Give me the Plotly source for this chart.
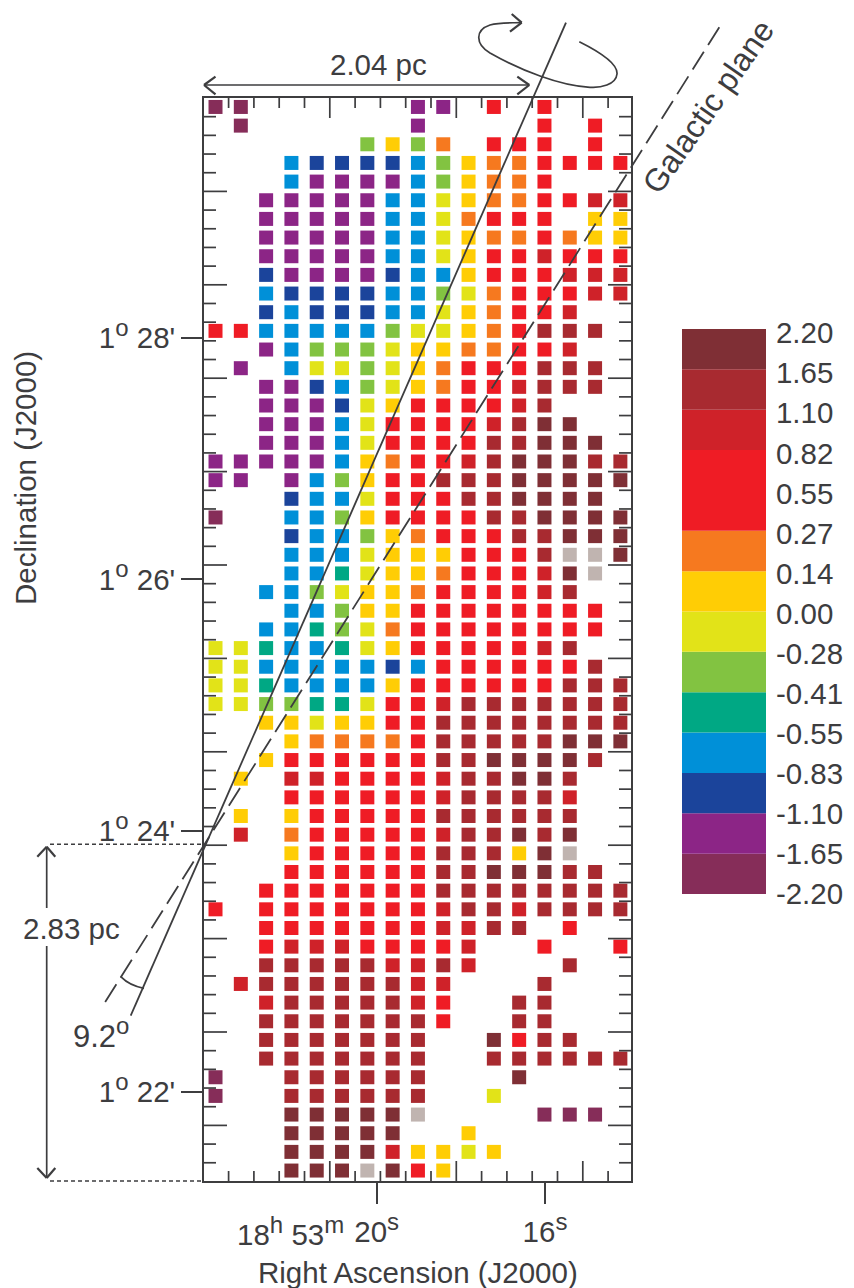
import plotly.graph_objects as go

W, H = 854, 1288
INK = "#3d3d3f"
FONT = "Liberation Sans"
FS = 29.5


def sup(t, size=24):
    return f'<sup><span style="font-size:{size}px">{t}</span></sup>'


# One string per declination row (top to bottom), one letter per right-ascension column.
rows = [
    "aa......bb.j.j...", ".a......b....j.j.", "......fhfi.jjj.j.", "...dccccdfhiijjjj",
    "...dbbbbdfhiij...", "..bbbbbddghiijjkk", "..bbbbbddgijjj.hh", "..bbbbbddghiijihh",
    "..bbbbbddghjjkjjj", "..cbbbbcddhjjjkkk", "..dccccddfgijjjkk", "..cdcccddghijjk..",
    "jjdddddfgghijlll.", "..bdfffghhiijjk..", ".b.dggfghijjjlll.", "..bbcdfghijjklll.",
    "..bbbcghjjjjkl...", "..bbbdgjjjjklmm..", "..bbbdgjjjjllmmm.", "bbbbbdhijjklmmmll",
    "bb.bdfhjjlllmmmmm", "...cddgjjjllmmmm.", "a..ddfhjjjjllmmmm", "...cddfhijjjllmmm",
    "...dddghhhjjjlnnm", "...ddeghhijjjkmn.", "..ddfghhijjjjkl..", "...ddfhhjjjjjjjj.",
    "..ddefgijjjjjjjj.", "ggeddeghjjjjjkl..", "ggdddddcdjjjjjjl.", "ggeddddhjjjjjjlll",
    "ggffeegjjklllllll", "..hhghhjjllllllll", "...hiiiijlllllmmm", "..hjjjjjjllmmmml.",
    ".h.kkjjjjkllmml..", "...jjjjjjkllllk..", ".h.hjjjjjllllll..", ".k.ijjjjjkllmlm..",
    "...hjjjjjlllhmn..", "...jjjjjjllmmmll.", "..jjjjjjjllllllll", "j.jjjjjjjkllkllll",
    "..jjjjjjjkkll.j..", "..jkkkjjjjk..j..j", "..lllllkklk...l..", ".kllllllkk...l...",
    "..klllllkj..ll...", "..lllllllj..ll...", "..lllllll..mjll..", "..lllllll..llllll",
    "a..llllll...m....", "a..llllll..g.....", "...mmmmmn....aaa.", "...mmmmm..h......",
    "...mmmmkhhgh.....", "...mmmnmjh.......",
]

level_keys = list("abcdefghijklmn")
level_colors = ["#862d59", "#8c2586", "#1b449b", "#0090d8", "#00a884", "#82c341", "#e2e318",
                "#ffcd05", "#f6791f", "#ef1c25", "#cf2229", "#a82a30", "#7f2f35", "#c0b4b0"]
scale_labels = ["-2.20", "-1.65", "-1.10", "-0.83", "-0.55", "-0.41", "-0.28", "0.00",
                "0.14", "0.27", "0.55", "0.82", "1.10", "1.65", "2.20"]
scale_spans = [1, 1, 1, 1, 1, 1, 1, 1, 1, 2, 1, 1, 1]   # label intervals covered by levels a..m

dec_tick_rows = [12.39, 25.31, 38.78, 52.77]
dec_tick_labels = [f"1{sup('o')} 28'", f"1{sup('o')} 26'", f"1{sup('o')} 24'", f"1{sup('o')} 22'"]
ra_tick_cols = [6.37, 13.02]
ra_tick_labels = [f"20{sup('s')}", f"16{sup('s')}"]


def fx(x):
    return x / W


def fy(y):
    return 1 - y / H


fig = go.Figure()

for key, colour in zip(level_keys, level_colors):
    xs, ys = [], []
    for r, row in enumerate(rows):
        for c, ch in enumerate(row):
            if ch == key:
                xs.append(c)
                ys.append(r)
    fig.add_trace(go.Scatter(x=xs, y=ys, mode="markers", showlegend=False, hoverinfo="skip",
                             marker=dict(symbol="square", size=14, color=colour, line=dict(width=0))))

base = 0
for span, colour in zip(scale_spans, level_colors):
    fig.add_trace(go.Bar(x=[0], y=[span], base=[base], width=[1], marker=dict(color=colour, line=dict(width=0)),
                         xaxis="x2", yaxis="y2", showlegend=False, hoverinfo="skip"))
    base += span

shapes = []


def seg(x0, y0, x1, y1, width=1.7, dash=None):
    shapes.append(dict(type="line", xref="paper", yref="paper", x0=fx(x0), y0=fy(y0), x1=fx(x1), y1=fy(y1),
                       line=dict(color=INK, width=width, dash=dash)))


def curve(cmds, width=1.7):
    parts = []
    for cmd, pts in cmds:
        parts.append(cmd + " " + " ".join(f"{fx(x):.5f},{fy(y):.5f}" for x, y in pts))
    shapes.append(dict(type="path", xref="paper", yref="paper", path=" ".join(parts),
                       line=dict(color=INK, width=width)))


# inner frame ticks
for k in range(1, 17):
    x = 203.3 + 25.3 * k
    L = 20 if k % 5 == 0 else 10
    seg(x, 98, x, 98 + L)
    seg(x, 1181, x, 1181 - L)
for k in range(1, 58):
    y = 98 + 18.68 * k
    L = 23 if k % 5 == 0 else 12
    seg(204, y, 204 + L, y)
    seg(631, y, 631 - L, y)

# rotation axis and Galactic plane
seg(566, 22.7, 130.7, 1015.7, width=1.8)
seg(719.3, 27.3, 103.7, 1004.3, width=1.8, dash="21px,8px")
curve([("M", [(120.7, 976.7)]), ("Q", [(130, 986), (144, 988.3)])])

# rotation sense
curve([("M", [(579.3, 41.7)]),
       ("C", [(600, 52), (618, 64), (617, 74)]),
       ("C", [(616, 85), (600, 88), (590, 87.3)]),
       ("C", [(560, 86), (520, 70), (490, 53)]),
       ("C", [(475, 44), (475, 30), (490, 25)]),
       ("C", [(500, 22), (510, 23), (521.7, 22.7)])])
seg(511.7, 14, 521.7, 22.7, width=2.2)
seg(521.7, 22.7, 510, 31.7, width=2.2)

# 2.04 pc arrow
seg(204, 85, 529.3, 85)
seg(517.3, 76.7, 529.3, 85, width=2.2)
seg(529.3, 85, 517.3, 94.3, width=2.2)
seg(215.5, 76.7, 204, 85, width=2.2)
seg(204, 85, 215.5, 94.3, width=2.2)

# 2.83 pc arrow
seg(46.7, 846.7, 46.7, 908)
seg(46.7, 946, 46.7, 1178)
seg(37.3, 856.7, 46.7, 846.7, width=2.2)
seg(46.7, 846.7, 55.3, 856.7, width=2.2)
seg(37.3, 1168, 46.7, 1178, width=2.2)
seg(46.7, 1178, 55.3, 1168, width=2.2)
seg(50, 844.3, 204, 844.3, width=1.4, dash="4px,3px")
seg(50, 1181, 204, 1181, width=1.4, dash="4px,3px")


def note(x, y, text, anchor="center", angle=0, size=FS):
    return dict(x=fx(x), y=fy(y), xref="paper", yref="paper", text=text, showarrow=False,
                xanchor=anchor, yanchor="middle", textangle=angle,
                font=dict(family=FONT, size=size, color=INK))


annotations = [
    note(378, 65, "2.04 pc"),
    note(71.7, 928, "2.83 pc"),
    note(71, 1033, f"9.2{sup('o')}", anchor="left", size=31),
    note(346, 1231, f"18{sup('h')} 53{sup('m')}", anchor="right"),
    note(418, 1272, "Right Ascension (J2000)"),
    note(25, 478, "Declination (J2000)", angle=-90),
    note(708, 107, "Galactic plane", angle=-55, size=32),
]

fig.update_layout(
    width=W, height=H, margin=dict(l=0, r=0, t=0, b=0, pad=0, autoexpand=False),
    paper_bgcolor="white", plot_bgcolor="white", barmode="overlay",
    shapes=shapes, annotations=annotations, autosize=False,
    xaxis=dict(domain=[204 / W, 631 / W], range=[-0.455, 16.42], showgrid=False, zeroline=False,
               showline=True, mirror=True, linecolor=INK, linewidth=1.8,
               tickmode="array", tickvals=ra_tick_cols, ticktext=ra_tick_labels,
               ticks="outside", ticklen=21, tickwidth=1.7, tickcolor=INK, ticklabelstandoff=3,
               tickfont=dict(family=FONT, size=FS, color=INK)),
    yaxis=dict(domain=[1 - 1181 / H, 1 - 98 / H], range=[57.56, -0.48], showgrid=False, zeroline=False,
               showline=True, mirror=True, linecolor=INK, linewidth=1.8,
               tickmode="array", tickvals=dec_tick_rows, ticktext=dec_tick_labels,
               ticks="outside", ticklen=21, tickwidth=1.7, tickcolor=INK,
               tickfont=dict(family=FONT, size=FS, color=INK)),
    xaxis2=dict(domain=[682 / W, 766 / W], range=[-0.5, 0.5], visible=False, anchor="y2"),
    yaxis2=dict(domain=[1 - 894 / H, 1 - 329 / H], range=[0, 14], anchor="x2", side="right",
                showgrid=False, zeroline=False, showline=False,
                tickmode="array", tickvals=[i * 0.993 for i in range(15)], ticktext=scale_labels,
                ticks="outside", ticklen=3, tickcolor="rgba(0,0,0,0)",
                tickfont=dict(family=FONT, size=FS, color=INK)),
)

fig.write_html("out.html", post_script="document.body.style.margin='0';",
               config={"displayModeBar": False})
